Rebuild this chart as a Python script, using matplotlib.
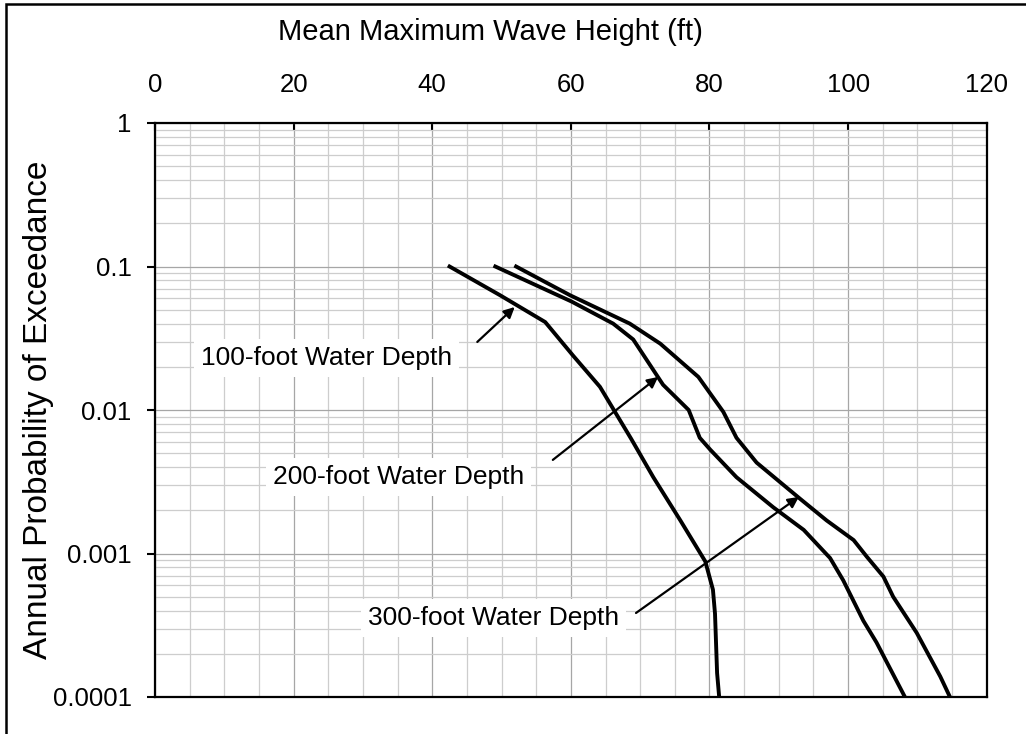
import numpy as np
import matplotlib
matplotlib.use("Agg")
import matplotlib.pyplot as plt
from matplotlib.patches import Rectangle

plt.rcParams['font.family'] = ['Liberation Sans', 'DejaVu Sans']

# wave height (ft) vs annual probability of exceedance, one pair per depth
height_100 = [42.5, 49.8, 56.3, 60.3, 64.2, 68.7, 71.9, 75.8, 79.4, 80.5, 80.8, 81.1, 81.4]
prob_100 = [0.1, 0.063, 0.041, 0.024, 0.0145, 0.0063, 0.0034, 0.0017, 0.00088, 0.00056,
            0.00038, 0.000147, 0.0001]

height_200 = [49.1, 60.1, 66.1, 69.0, 73.3, 77.0, 78.6, 80.1, 83.9, 89.2, 93.6, 97.4,
              99.3, 102.2, 104.1, 108.2]
prob_200 = [0.1, 0.057, 0.040, 0.031, 0.0150, 0.0100, 0.0064, 0.0053, 0.0034, 0.0021,
            0.00146, 0.00093, 0.00065, 0.00034, 0.00024, 0.0001]

height_300 = [52.1, 59.9, 68.5, 72.9, 78.4, 82.0, 83.9, 86.8, 93.1, 96.9, 100.8, 102.7,
              105.1, 106.5, 109.9, 113.3, 114.7]
prob_300 = [0.1, 0.063, 0.040, 0.029, 0.017, 0.0097, 0.0064, 0.0043, 0.0024, 0.0017,
            0.00124, 0.00095, 0.00069, 0.0005, 0.00028, 0.000139, 0.0001]

x_ticks = [0, 20, 40, 60, 80, 100, 120]
y_ticks = [1, 0.1, 0.01, 0.001, 0.0001]
y_tick_labels = ['1', '0.1', '0.01', '0.001', '0.0001']

# label text, text position, arrow tail, arrow head
labels = [
    ('100-foot Water Depth', (24.8, 0.0230), (46.5, 0.0298), (51.9, 0.0522)),
    ('200-foot Water Depth', (35.2, 0.00341), (57.4, 0.00449), (72.6, 0.0170)),
    ('300-foot Water Depth', (48.8, 0.000355), (69.4, 0.000385), (92.9, 0.00248)),
]

fig = plt.figure(figsize=(10.26, 7.34), dpi=100)
ax = fig.add_axes([155 / 1026, 1 - 697 / 734, 831.7 / 1026, 574 / 734])

ax.set_yscale('log')
ax.set_xlim(0, 120)
ax.set_ylim(0.0001, 1)

ax.set_xticks(x_ticks)
ax.set_xticks(np.arange(0, 121, 5), minor=True)
ax.set_yticks(y_ticks)
ax.set_yticklabels(y_tick_labels)

ax.grid(True, which='major', color='#a6a6a6', lw=0.9)
ax.grid(True, which='minor', color='#cdcdcd', lw=0.9)
ax.set_axisbelow(True)

ax.xaxis.tick_top()
ax.tick_params(axis='x', which='major', direction='in', length=6, width=1.5,
               labelsize=18.5, pad=19)
ax.tick_params(axis='y', which='major', direction='out', length=5.8, width=1.5,
               labelsize=18.5, pad=11)
ax.tick_params(which='minor', length=0)
ax.tick_params(axis='y', which='minor', left=False, labelleft=False)

for s in ax.spines.values():
    s.set_linewidth(1.6)
    s.set_color('black')

# axis titles
fig.text(490 / 1026, 1 - 40.5 / 734, 'Mean Maximum Wave Height (ft)', fontsize=21,
         ha='center', va='baseline')
ax.set_ylabel('Annual Probability of Exceedance', fontsize=24)
ax.yaxis.set_label_coords(-0.1214, 0.5)

ax.plot(height_100, prob_100, color='black', lw=2.8, solid_joinstyle='round')
ax.plot(height_200, prob_200, color='black', lw=2.8, solid_joinstyle='round')
ax.plot(height_300, prob_300, color='black', lw=2.8, solid_joinstyle='round')

for text, pos, tail, head in labels:
    ax.text(pos[0], pos[1], text, fontsize=19, ha='center', va='center',
            bbox=dict(facecolor='white', edgecolor='none', pad=5))
    ax.annotate('', xy=head, xytext=tail,
                arrowprops=dict(arrowstyle='-|>', color='black', lw=1.6,
                                mutation_scale=16, shrinkA=0, shrinkB=0))

# frame round the whole chart
fig.patches.append(Rectangle((6 / 1026, -0.5), 2.0, 1.5 - 4 / 734, transform=fig.transFigure,
                             fill=False, edgecolor='black', lw=1.8))

fig.savefig('out.png', dpi=100)
